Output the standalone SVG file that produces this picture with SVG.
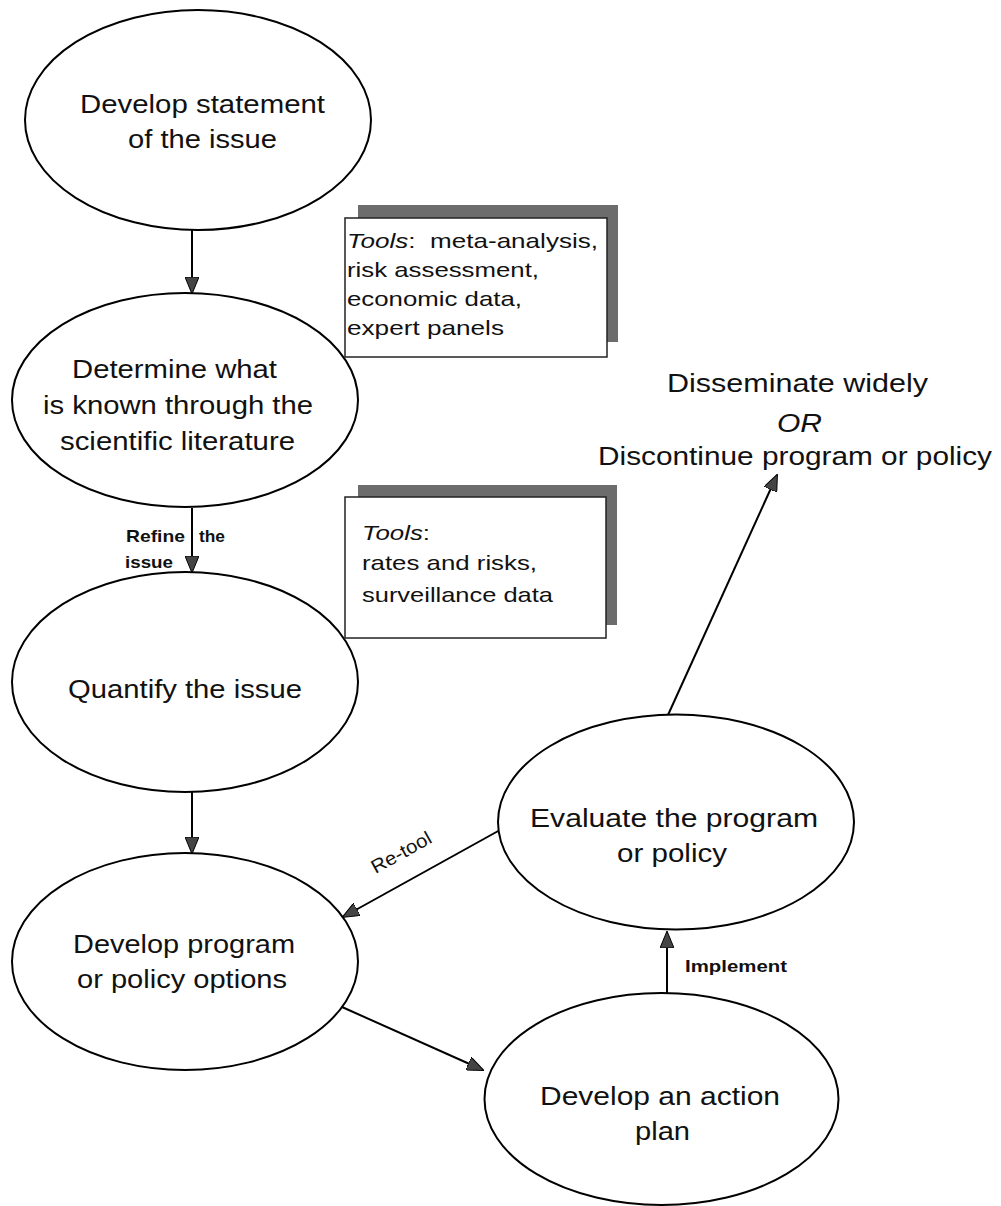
<svg xmlns="http://www.w3.org/2000/svg" width="1001" height="1206" viewBox="0 0 1001 1206">
<style>
.node ellipse{fill:#fff;stroke:#000;stroke-width:2}
.t{font-family:"Liberation Sans",Arial,sans-serif;font-size:25.5px;fill:#111}
.tool{font-family:"Liberation Sans",Arial,sans-serif;font-size:21px;fill:#111}
.lbl{font-family:"Liberation Sans",Arial,sans-serif;font-size:17px;font-weight:bold;fill:#111}
.shadow{fill:#6c6c6c}
.box{fill:#fff;stroke:#222;stroke-width:1.5}
.conn line{stroke:#000;stroke-width:2;marker-end:url(#arr)}
</style>
<defs>
<marker id="arr" viewBox="0 0 17 14" refX="16" refY="7" markerWidth="17" markerHeight="14" markerUnits="userSpaceOnUse" orient="auto">
<path d="M0,0 L17,7 L0,14 z" fill="#444" stroke="#000" stroke-width="1"/>
</marker>
</defs>
<rect width="1001" height="1206" fill="#fff"/>

<g id="connectors" class="conn">
<line x1="192" y1="230" x2="192" y2="293"/>
<line x1="192" y1="508" x2="192" y2="572"/>
<line x1="192" y1="792" x2="192" y2="853"/>
<line x1="342" y1="1007" x2="483" y2="1070"/>
<line x1="667" y1="993" x2="667" y2="932"/>
<line x1="500" y1="830" x2="343" y2="917"/>
<line x1="668" y1="715" x2="777" y2="475"/>
</g>

<g id="labels">
<text class="lbl" x="126" y="542" textLength="59" lengthAdjust="spacingAndGlyphs">Refine</text>
<text class="lbl" x="199" y="542" textLength="26" lengthAdjust="spacingAndGlyphs">the</text>
<text class="lbl" x="125" y="568" textLength="48" lengthAdjust="spacingAndGlyphs">issue</text>
<text class="lbl" x="685" y="972" textLength="102" lengthAdjust="spacingAndGlyphs">Implement</text>
<text class="lbl" x="401" y="859" text-anchor="middle" transform="rotate(-29 401 852)" style="font-weight:normal;font-size:19px" textLength="66" lengthAdjust="spacingAndGlyphs">Re-tool</text>
</g>

<g id="n1" class="node">
<ellipse cx="198" cy="120" rx="173" ry="110"/>
<text class="t" x="80" y="113" textLength="245" lengthAdjust="spacingAndGlyphs">Develop statement</text>
<text class="t" x="128" y="148" textLength="149" lengthAdjust="spacingAndGlyphs">of the issue</text>
</g>

<g id="n2" class="node">
<ellipse cx="185" cy="400" rx="173" ry="107"/>
<text class="t" x="72" y="378" textLength="205" lengthAdjust="spacingAndGlyphs">Determine what</text>
<text class="t" x="43" y="414" textLength="270" lengthAdjust="spacingAndGlyphs">is known through the</text>
<text class="t" x="60" y="450" textLength="235" lengthAdjust="spacingAndGlyphs">scientific literature</text>
</g>

<g id="n3" class="node">
<ellipse cx="185" cy="682" rx="173" ry="110"/>
<text class="t" x="68" y="698" textLength="234" lengthAdjust="spacingAndGlyphs">Quantify the issue</text>
</g>

<g id="n4" class="node">
<ellipse cx="185" cy="961.5" rx="173" ry="108.5"/>
<text class="t" x="73" y="953" textLength="222" lengthAdjust="spacingAndGlyphs">Develop program</text>
<text class="t" x="77" y="988" textLength="210" lengthAdjust="spacingAndGlyphs">or policy options</text>
</g>

<g id="n5" class="node">
<ellipse cx="661.5" cy="1099" rx="177" ry="106"/>
<text class="t" x="540" y="1105" textLength="240" lengthAdjust="spacingAndGlyphs">Develop an action</text>
<text class="t" x="635" y="1140" textLength="55" lengthAdjust="spacingAndGlyphs">plan</text>
</g>

<g id="n6" class="node">
<ellipse cx="676" cy="822" rx="178" ry="107.5"/>
<text class="t" x="530" y="827" textLength="288" lengthAdjust="spacingAndGlyphs">Evaluate the program</text>
<text class="t" x="617" y="862" textLength="110" lengthAdjust="spacingAndGlyphs">or policy</text>
</g>

<g id="outcome">
<text class="t" x="667" y="392" textLength="261" lengthAdjust="spacingAndGlyphs">Disseminate widely</text>
<text class="t" x="777" y="432" textLength="45" lengthAdjust="spacingAndGlyphs" font-style="italic">OR</text>
<text class="t" x="598" y="465" textLength="394" lengthAdjust="spacingAndGlyphs">Discontinue program or policy</text>
</g>

<g id="tools1">
<rect class="shadow" x="358" y="205" width="260" height="137"/>
<rect class="box" x="345" y="218" width="262" height="139"/>
<text class="tool" x="347" y="248" textLength="251" lengthAdjust="spacingAndGlyphs" style="white-space:pre"><tspan font-style="italic">Tools</tspan>:  meta-analysis,</text>
<text class="tool" x="347" y="277" textLength="192" lengthAdjust="spacingAndGlyphs">risk assessment,</text>
<text class="tool" x="347" y="306" textLength="175" lengthAdjust="spacingAndGlyphs">economic data,</text>
<text class="tool" x="347" y="335" textLength="157" lengthAdjust="spacingAndGlyphs">expert panels</text>
</g>

<g id="tools2">
<rect class="shadow" x="358" y="485" width="259" height="140"/>
<rect class="box" x="345" y="497" width="261" height="141"/>
<text class="tool" x="362" y="540" textLength="68" lengthAdjust="spacingAndGlyphs"><tspan font-style="italic">Tools</tspan>:</text>
<text class="tool" x="362" y="570" textLength="175" lengthAdjust="spacingAndGlyphs">rates and risks,</text>
<text class="tool" x="362" y="602" textLength="191" lengthAdjust="spacingAndGlyphs">surveillance data</text>
</g>
</svg>
